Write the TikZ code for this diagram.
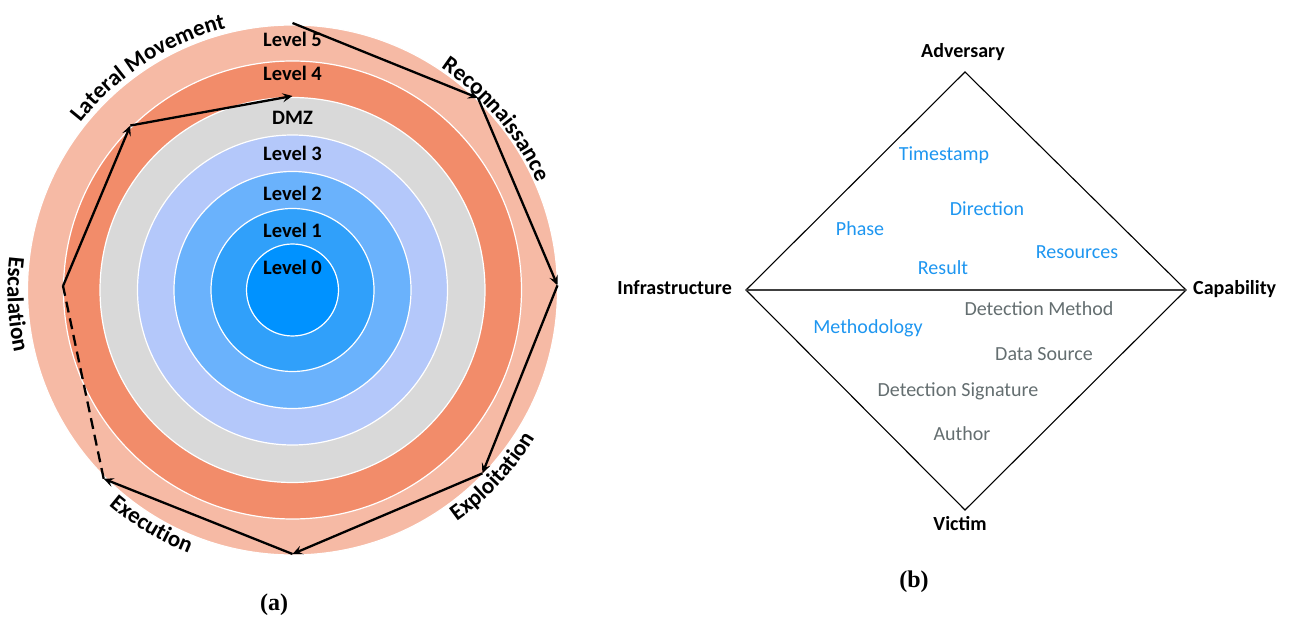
\documentclass[tikz,border=0pt]{standalone}
\usepackage{fontspec}
\setmainfont{Carlito}
\newfontfamily\capfont{Liberation Serif}
\usetikzlibrary{arrows.meta,decorations.text,calc}
\definecolor{lvzero}{RGB}{0,146,255}
\definecolor{lvone}{RGB}{48,160,250}
\definecolor{lvtwo}{RGB}{106,178,252}
\definecolor{lvthree}{RGB}{180,200,250}
\definecolor{lvdmz}{RGB}{217,217,217}
\definecolor{lvfour}{RGB}{242,140,106}
\definecolor{lvfive}{RGB}{246,186,165}
\definecolor{attrblue}{RGB}{30,150,240}
\definecolor{attrgray}{RGB}{100,110,112}
\newcommand\curvefont{\fontsize{23}{27}\selectfont\bfseries}
\tikzset{
  txtlbl/.style={inner sep=0pt, text height=0.64em, text depth=0pt, font=\fontsize{20}{24}\selectfont},
  lvllbl/.style={txtlbl, font=\fontsize{20.5}{24}\selectfont\bfseries},
  vertlbl/.style={txtlbl, font=\fontsize{20}{24}\selectfont\bfseries},
  blueattr/.style={txtlbl, text=attrblue},
  grayattr/.style={txtlbl, text=attrgray},
  ringline/.style={draw=white, line width=1.2pt},
  arrline/.style={line width=2.3pt, -{Stealth[length=10pt,width=9pt,inset=4pt]}},
  dashline/.style={line width=2.3pt, dash pattern=on 11pt off 6pt},
  diaedge/.style={line width=1.1pt, line join=miter},
  midline/.style={line width=1.8pt, draw=black!75},
  curvelbl/.style={decorate, decoration={text along path, text align=center, text={|\curvefont|#1}}},
  captionlbl/.style={inner sep=0pt, font=\capfont\fontsize{24}{28}\selectfont\bfseries}
}
\begin{document}
\begin{tikzpicture}[x=1pt,y=1pt]
\useasboundingbox (0,0) rectangle (1291,619);
\coordinate (C) at (292.5,329);
% rings
\foreach \r/\c in {265/lvfive, 229/lvfour, 192.5/lvdmz, 155/lvthree, 118.5/lvtwo, 81.5/lvone, 46/lvzero}
  \filldraw[ringline, fill=\c] (C) circle[radius=\r];
% level labels
\node[lvllbl] (l5) at (292.5,576) {Level 5};
\node[lvllbl] (l4) at (292.5,542) {Level 4};
\node[lvllbl] (ld) at (292.5,498) {DMZ};
\node[lvllbl] (l3) at (292.5,462) {Level 3};
\node[lvllbl] (l2) at (292.5,422) {Level 2};
\node[lvllbl] (l1) at (292.5,385) {Level 1};
\node[lvllbl] (l0) at (292.5,348) {Level 0};
% attack path
\coordinate (P0) at ($(C)+(90:267)$);
\coordinate (P1) at ($(C)+(46:267)$);
\coordinate (P2) at ($(C)+(1:265)$);
\coordinate (P3) at ($(C)+(-44:264)$);
\coordinate (P4) at ($(C)+(-90:264)$);
\coordinate (P5) at ($(C)+(-135:267)$);
\coordinate (P6) at ($(C)+(179:229.5)$);
\coordinate (P7) at ($(C)+(134.6:231)$);
\coordinate (P8) at ($(C)+(90:194)$);
\draw[arrline] (P0) -- (P1);
\draw[arrline] (P1) -- (P2);
\draw[arrline] (P2) -- (P3);
\draw[arrline] (P3) -- (P4);
\draw[arrline] (P4) -- (P5);
\draw[dashline] (P5) -- (P6);
\draw[arrline] (P6) -- (P7);
\draw[arrline] (P7) -- (P8);
% curved labels
\path[curvelbl={Lateral Movement}] ($(C)+(161:270)$) arc[start angle=161, end angle=85, radius=270];
\path[curvelbl={Reconnaissance}] ($(C)+(78:267)$) arc[start angle=78, end angle=2, radius=267];
\path[curvelbl={Exploitation}] ($(C)+(-81:284)$) arc[start angle=-81, end angle=-5, radius=284];
\path[curvelbl={Execution}] ($(C)+(-159:283)$) arc[start angle=-159, end angle=-83, radius=283];
\path[curvelbl={Escalation}] ($(C)+(145:285)$) arc[start angle=145, end angle=221, radius=285];
\node[captionlbl] (capa) at (274,14) {(a)};
% diamond
\coordinate (A) at (965,547);
\coordinate (I) at (746,329);
\coordinate (K) at (1186,329);
\coordinate (V) at (965,109);
\draw[diaedge] (I) -- (A) -- (K) -- (V) -- cycle;
\draw[midline] (I) -- (K);
\node[vertlbl] (adv) at (963,565) {Adversary};
\node[vertlbl, anchor=east] (inf) at (732,328) {Infrastructure};
\node[vertlbl, anchor=west] (capb) at (1193,328) {Capability};
\node[vertlbl] (vic) at (960,92) {Victim};
\node[blueattr] (ts) at (944,462) {Timestamp};
\node[blueattr] (dir) at (987,407) {Direction};
\node[blueattr] (ph) at (860,387) {Phase};
\node[blueattr] (res) at (1077,364) {Resources};
\node[blueattr] (rsl) at (943,348) {Result};
\node[grayattr] (dm) at (1039,307) {Detection Method};
\node[blueattr] (meth) at (868,289) {Methodology};
\node[grayattr] (ds) at (1044,262) {Data Source};
\node[grayattr] (dsig) at (958,226) {Detection Signature};
\node[grayattr] (auth) at (962,182) {Author};
\node[captionlbl] (capb2) at (914,37) {(b)};
\end{tikzpicture}
\end{document}
